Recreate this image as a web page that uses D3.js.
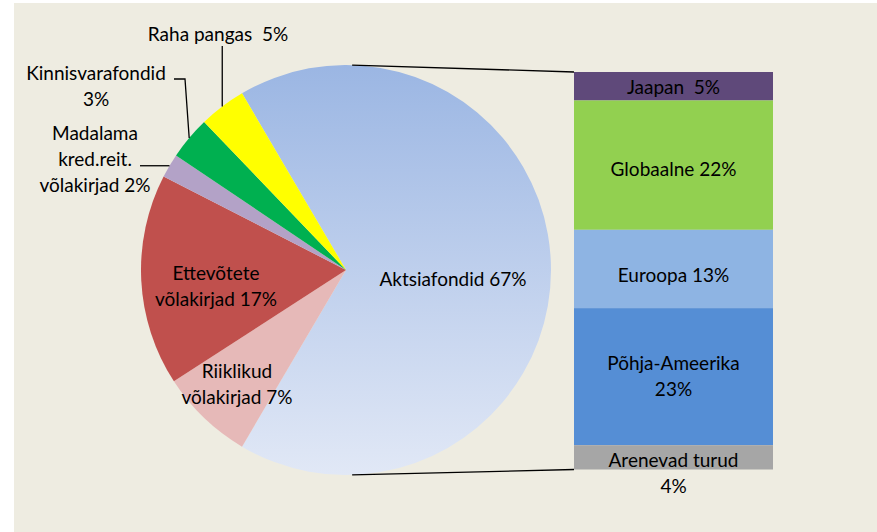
<!DOCTYPE html>
<html>
<head>
<meta charset="utf-8">
<script src="https://cdn.jsdelivr.net/npm/d3@7/dist/d3.min.js"></script>
<style>
html,body{margin:0;padding:0;background:#fff;}
svg{display:block;}
text{font-family:Lato, "Open Sans", sans-serif;fill:#000;white-space:pre;}
</style>
</head>
<body>
<svg id="chart" width="877" height="532"></svg>
<script>
// ---- data ----
const pieCategories = ["Aktsiafondid", "Riiklikud võlakirjad", "Ettevõtete võlakirjad", "Madalama kred.reit. võlakirjad", "Kinnisvarafondid", "Raha pangas"];
const pieValues = [67, 7.4, 16.7, 1.9, 3.4, 3.7];
const pieLabels = [["Aktsiafondid 67%"], ["Riiklikud", "võlakirjad 7%"], ["Ettevõtete", "võlakirjad 17%"], ["Madalama", "kred.reit.", "võlakirjad 2%"], ["Kinnisvarafondid", "3%"], ["Raha pangas  5%"]];
const pieColors = ["url(#aktsiaGrad)", "#E6B9B8", "#C0504D", "#B3A2C7", "#00B050", "#FFFF00"];

const barCategories = ["Jaapan", "Globaalne", "Euroopa", "Põhja-Ameerika", "Arenevad turud"];
const barValues = [4.8, 21.8, 13.2, 23.1, 4.1];
const barLabels = [["Jaapan  5%"], ["Globaalne 22%"], ["Euroopa 13%"], ["Põhja-Ameerika", "23%"], ["Arenevad turud", "4%"]];
const barColors = ["#5F497A", "#92D050", "#8EB4E3", "#558ED5", "#A6A6A6"];

// ---- layout ----
const W = 877, H = 532;
const svg = d3.select("#chart");
const fontSize = 19, lineH = 26;

svg.append("rect").attr("x", 14).attr("y", 3).attr("width", W - 14).attr("height", H - 3).attr("fill", "#EEECE1");

const defs = svg.append("defs");
const cx = 346, cy = 270, r = 205;
const grad = defs.append("linearGradient").attr("id", "aktsiaGrad")
  .attr("gradientUnits", "userSpaceOnUse").attr("x1", 0).attr("y1", -r).attr("x2", 0).attr("y2", r);
grad.append("stop").attr("offset", "0%").attr("stop-color", "#9BB6E3");
grad.append("stop").attr("offset", "100%").attr("stop-color", "#E1E8F6");

const total = d3.sum(pieValues);
const a0 = Math.PI / 2 - Math.PI * pieValues[0] / total;
const pie = d3.pie().sort(null).value(d => d).startAngle(a0).endAngle(a0 + 2 * Math.PI);
const arcs = pie(pieValues);
const arc = d3.arc().innerRadius(0).outerRadius(r);

const g = svg.append("g").attr("transform", `translate(${cx},${cy})`);
g.selectAll("path").data(arcs).join("path")
  .attr("d", arc).attr("fill", (d, i) => pieColors[i]);

// ---- bar of pie ----
const barX = 574, barW = 199;
const y = d3.scaleLinear().domain([0, d3.sum(barValues)]).range([72, 469.5]);
const cum = d3.cumsum(barValues);
const bars = barValues.map((v, i) => ({v, i, y0: y(cum[i] - v), y1: y(cum[i])}));
svg.selectAll("rect.bar").data(bars).join("rect").attr("class", "bar")
  .attr("x", barX).attr("width", barW)
  .attr("y", d => d.y0).attr("height", d => d.y1 - d.y0)
  .attr("fill", d => barColors[d.i]);

// connector lines
const topPt = [cx + r * Math.sin(0.03), cy - r * Math.cos(0.03)];
const botPt = [cx + r * Math.sin(Math.PI - 0.03), cy - r * Math.cos(Math.PI - 0.03)];
svg.append("line").attr("x1", topPt[0]).attr("y1", topPt[1]).attr("x2", barX).attr("y2", y(0))
  .attr("stroke", "#000").attr("stroke-width", 1.3);
svg.append("line").attr("x1", botPt[0]).attr("y1", botPt[1]).attr("x2", barX).attr("y2", y(d3.sum(barValues)))
  .attr("stroke", "#000").attr("stroke-width", 1.3);

function multiText(sel, x, yc, lines) {
  const t = sel.append("text").attr("text-anchor", "middle").attr("font-size", fontSize);
  lines.forEach((l, k) => {
    t.append("tspan").attr("x", x).attr("y", yc + (k - (lines.length - 1) / 2) * lineH).attr("dy", "0.35em").text(l);
  });
  return t;
}

// bar labels
const barLabelY = [87, 169, 275, 376, 473];
bars.forEach((d, i) => multiText(svg, barX + barW / 2, barLabelY[i], barLabels[i]));

// pie labels (layout positions)
const pieLabelPos = [[453, 279], [237, 384], [216, 286], [95, 159], [96, 86], [218, 34]];
pieLabels.forEach((l, i) => multiText(svg, pieLabelPos[i][0], pieLabelPos[i][1], l));

// leader lines from arc midpoints at outer radius
function edgePt(i) {
  const a = (arcs[i].startAngle + arcs[i].endAngle) / 2;
  return [cx + r * Math.sin(a), cy - r * Math.cos(a)];
}
const lead = d3.line();
const p5 = edgePt(5), p4 = edgePt(4), p3 = edgePt(3);
svg.append("path").attr("d", lead([[p5[0], 46], p5])).attr("fill", "none").attr("stroke", "#000").attr("stroke-width", 1.3);
svg.append("path").attr("d", lead([[174, 79], [185, 79], p4])).attr("fill", "none").attr("stroke", "#000").attr("stroke-width", 1.3);
svg.append("path").attr("d", lead([[140, p3[1]], p3])).attr("fill", "none").attr("stroke", "#000").attr("stroke-width", 1.3);
</script>
</body>
</html>
